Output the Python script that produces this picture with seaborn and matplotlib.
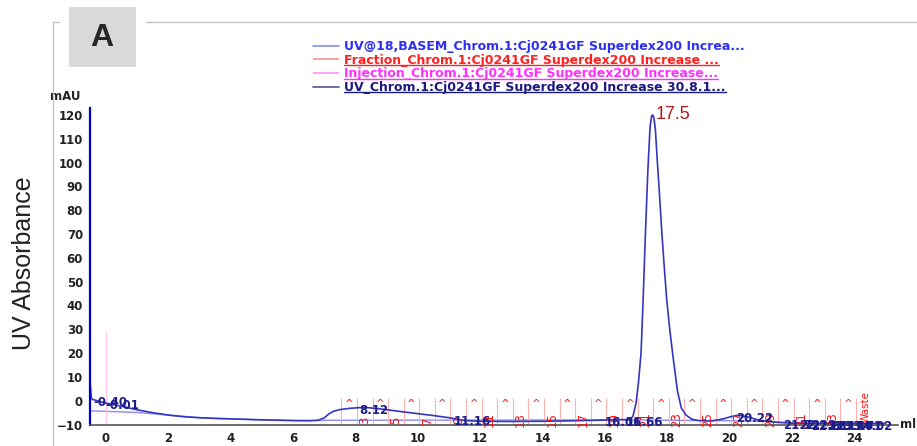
import numpy as np
import pandas as pd
import matplotlib
matplotlib.use("Agg")
import matplotlib.pyplot as plt
from matplotlib.lines import Line2D
from matplotlib.patches import Rectangle
import seaborn as sns

# UV trace (ml, mAU)
uv_ml = [-0.5, -0.47, -0.44, -0.35, -0.2, 0.0, 0.5, 1.0, 1.5, 2.0, 2.5, 3.0, 3.5, 4.0, 5.0,
         6.0, 6.5, 6.8, 7.0, 7.15, 7.3, 7.5, 7.8, 8.1, 8.4, 8.8, 9.5, 10.0, 10.5, 11.0,
         11.5, 12.0, 13.0, 14.0, 15.0, 16.0, 16.5, 16.8, 16.9, 17.0, 17.08, 17.16, 17.22, 17.3, 17.38,
         17.45, 17.5, 17.53, 17.57, 17.62, 17.68, 17.75, 17.82, 17.9, 17.98, 18.08, 18.2, 18.33, 18.45, 18.6,
         18.8, 19.0, 19.4, 19.8, 20.0, 20.2, 20.4, 20.6, 20.8, 21.0, 21.5, 22.0, 23.0, 24.0, 25.0]
uv_mau = [6.5, 1.5, 0.6, 0.3, -0.3, -1.0, -2.3, -3.8, -5.0, -6.0, -6.7, -7.1, -7.4, -7.6, -8.0,
          -8.3, -8.4, -8.2, -7.2, -5.5, -4.4, -3.7, -3.2, -2.9, -2.9, -3.4, -4.6, -5.4, -6.2, -7.1,
          -8.3, -8.6, -8.7, -8.6, -8.4, -8.1, -7.9, -8.0, -6.5, -1.0, 8.0, 20.0, 40.0, 70.0, 97.0,
          115.0, 119.5, 120.0, 119.0, 114.0, 101.0, 87.0, 72.0, 57.0, 43.0, 30.0, 17.0, 4.0, -3.0, -6.0,
          -7.8, -8.3, -8.5, -7.6, -6.8, -6.2, -6.3, -6.8, -7.6, -8.3, -9.0, -9.4, -9.6, -9.6, -9.5]

# baseline (UV@18,BASEM)
base_ml = [-0.5, 1.0, 2.0, 3.0, 4.0, 5.0, 6.0, 6.8, 16.8, 19.0, 21.0, 22.0, 25.0]
base_mau = [-4.2, -4.9, -6.0, -7.1, -7.6, -8.0, -8.3, -8.2, -8.0, -8.3, -8.5, -9.4, -9.5]

# fractions
frac_edges = [7.55, 8.05, 8.55, 9.05, 9.55, 10.05, 10.55, 11.05, 11.55, 12.05, 12.55, 13.05,
              13.55, 14.05, 14.55, 15.05, 15.55, 16.05, 16.55, 17.05, 17.55, 18.05, 18.55, 19.05,
              19.55, 20.05, 20.55, 21.05, 21.55, 22.05, 22.55, 23.05, 23.55, 24.05]
frac_labels = ['3', '5', '7', '9', '11', '13', '15', '17', '19', '21', '23', '25', '27', '29', '31', '33', 'Waste']
frac_label_ml = [8.3, 9.3, 10.3, 11.3, 12.3, 13.3, 14.3, 15.3, 16.3, 17.3, 18.3, 19.3, 20.3, 21.3, 22.3, 23.3, 24.35]
caret_ml = [7.8, 8.8, 9.8, 10.8, 11.8, 12.8, 13.8, 14.8, 15.8, 16.8, 17.8, 18.8, 19.8, 20.8, 21.8, 22.8, 23.8]

# injection mark
inj_ml = 0.0
inj_mau = 29.0

# peak retention labels
peak_labels = ['-0.40', '-0.01', '8.12', '11.16', '16.01', '16.66', '20.22',
               '21.72', '22.23', '22.61', '23.12', '23.40', '23.71', '24.02']

legend_labels = ['UV@18,BASEM_Chrom.1:Cj0241GF Superdex200 Increa...',
                 'Fraction_Chrom.1:Cj0241GF Superdex200 Increase ...',
                 'Injection_Chrom.1:Cj0241GF Superdex200 Increase...',
                 'UV_Chrom.1:Cj0241GF Superdex200 Increase 30.8.1...']

sns.set_style('white')
plt.rcParams['font.family'] = ['DejaVu Sans']

fig = plt.figure(figsize=(9.17, 4.46), dpi=100)
ax = fig.add_axes([90 / 917, 21.4 / 446, 808 / 917, 316.6 / 446])

uv = pd.DataFrame({'ml': uv_ml, 'mAU': uv_mau})
base = pd.DataFrame({'ml': base_ml, 'mAU': base_mau})

sns.lineplot(data=base, x='ml', y='mAU', ax=ax, color='#8a8af0', lw=1.0, label=legend_labels[0])
ax.vlines(frac_edges, -10, 1.2, color='#ffb0b0', lw=0.8, label=legend_labels[1])
ax.vlines([inj_ml], -10, inj_mau, color='#ffc8f0', lw=1.0, label=legend_labels[2])
sns.lineplot(data=uv, x='ml', y='mAU', ax=ax, color='#3535c0', lw=1.2, label=legend_labels[3])

for x in caret_ml:
    ax.text(x, -1.4, '^', color='#ff1010', fontsize=7.5, ha='center', va='center')
for lab, x in zip(frac_labels, frac_label_ml):
    if lab == 'Waste':
        ax.text(x, -2.5, lab, color='#ff1010', fontsize=7.5, rotation=90, ha='center', va='center')
    else:
        ax.text(x, -8.0, lab, color='#ff1010', fontsize=8.5, rotation=90, ha='center', va='center')

for lab in peak_labels:
    x = float(lab)
    y = np.interp(x, uv_ml, uv_mau) - 1.1
    ax.text(x, y, lab, color='#1c1c8c', fontsize=8.5, fontweight='bold', ha='left', va='center')

ax.text(17.64, 120, '17.5', color='#b01c1c', fontsize=13, family='Liberation Sans', ha='left', va='center')

ax.set_xlim(-0.51, 25.4)
ax.set_ylim(-10, 122.9)
ax.set_xticks(range(0, 25, 2))
ax.set_yticks(range(-10, 121, 10))
ax.set_xticks(np.arange(-0.5, 25.4, 0.5), minor=True)
ax.set_yticks(np.arange(-10, 122, 2), minor=True)
ax.tick_params(axis='both', which='major', labelsize=8.5, length=3, width=0.8, colors='#333333', pad=2)
ax.tick_params(axis='both', which='minor', length=1.5, width=0.5, colors='#666666')
for t in ax.get_xticklabels() + ax.get_yticklabels():
    t.set_fontweight('bold')
    t.set_color('#222222')
ax.set_xlabel('')
ax.set_ylabel('')
sns.despine(ax=ax)
ax.spines['left'].set_color('#0000c8')
ax.spines['left'].set_linewidth(1.6)
ax.spines['bottom'].set_color('#555555')
ax.spines['bottom'].set_linewidth(1.2)

ax.text(-0.012, 1.015, 'mAU', transform=ax.transAxes, fontsize=8.5, fontweight='bold', color='#222222',
        ha='right', va='bottom')
ax.text(1.003, 0.0, 'ml', transform=ax.transAxes, fontsize=8.5, fontweight='bold', color='#222222',
        ha='left', va='center')

leg = ax.legend(loc='upper left', bbox_to_anchor=(313 / 917, 1 - 40 / 446), bbox_transform=fig.transFigure,
                frameon=False, borderpad=0, borderaxespad=0, handlelength=2.1, handletextpad=0.4,
                labelspacing=0.06, prop={'size': 9.0, 'weight': 'bold'})
text_colors = ['#2f2ff0', '#ff2020', '#ff30ff', '#1a1a80']
line_colors = ['#8a8af0', '#ff9090', '#ff90ff', '#55559a']
for t, c in zip(leg.get_texts(), text_colors):
    t.set_color(c)
for h, c in zip(leg.legend_handles, line_colors):
    h.set_color(c)
    h.set_linewidth(1.2)

# page frame and panel letter
fig.add_artist(Line2D([53 / 917, 53 / 917], [0, 1 - 22 / 446], color='#c4c4c4', lw=1))
fig.add_artist(Line2D([53 / 917, 59 / 917], [1 - 22 / 446] * 2, color='#c4c4c4', lw=1))
fig.add_artist(Line2D([146 / 917, 1], [1 - 22 / 446] * 2, color='#c4c4c4', lw=1))
fig.add_artist(Rectangle((69 / 917, 1 - 67 / 446), 67 / 917, 60 / 446, transform=fig.transFigure,
                         facecolor='#d9d9d9', edgecolor='none'))
fig.text(102 / 917, 1 - 38 / 446, 'A', fontsize=23, fontweight='bold', family='Liberation Sans',
         ha='center', va='center')
fig.text(24 / 917, 1 - 263 / 446, 'UV Absorbance', fontsize=18, family='Liberation Sans', rotation=90,
         ha='center', va='center', color='#222222')

# underline the last three legend entries
fig.canvas.draw()
for t, c in zip(leg.get_texts()[1:], text_colors[1:]):
    bb = t.get_window_extent()
    fig.add_artist(Line2D([bb.x0, bb.x1], [bb.y0 + 2.0, bb.y0 + 2.0], transform=None, color=c, lw=1.0))

fig.savefig('out.png', dpi=100)
